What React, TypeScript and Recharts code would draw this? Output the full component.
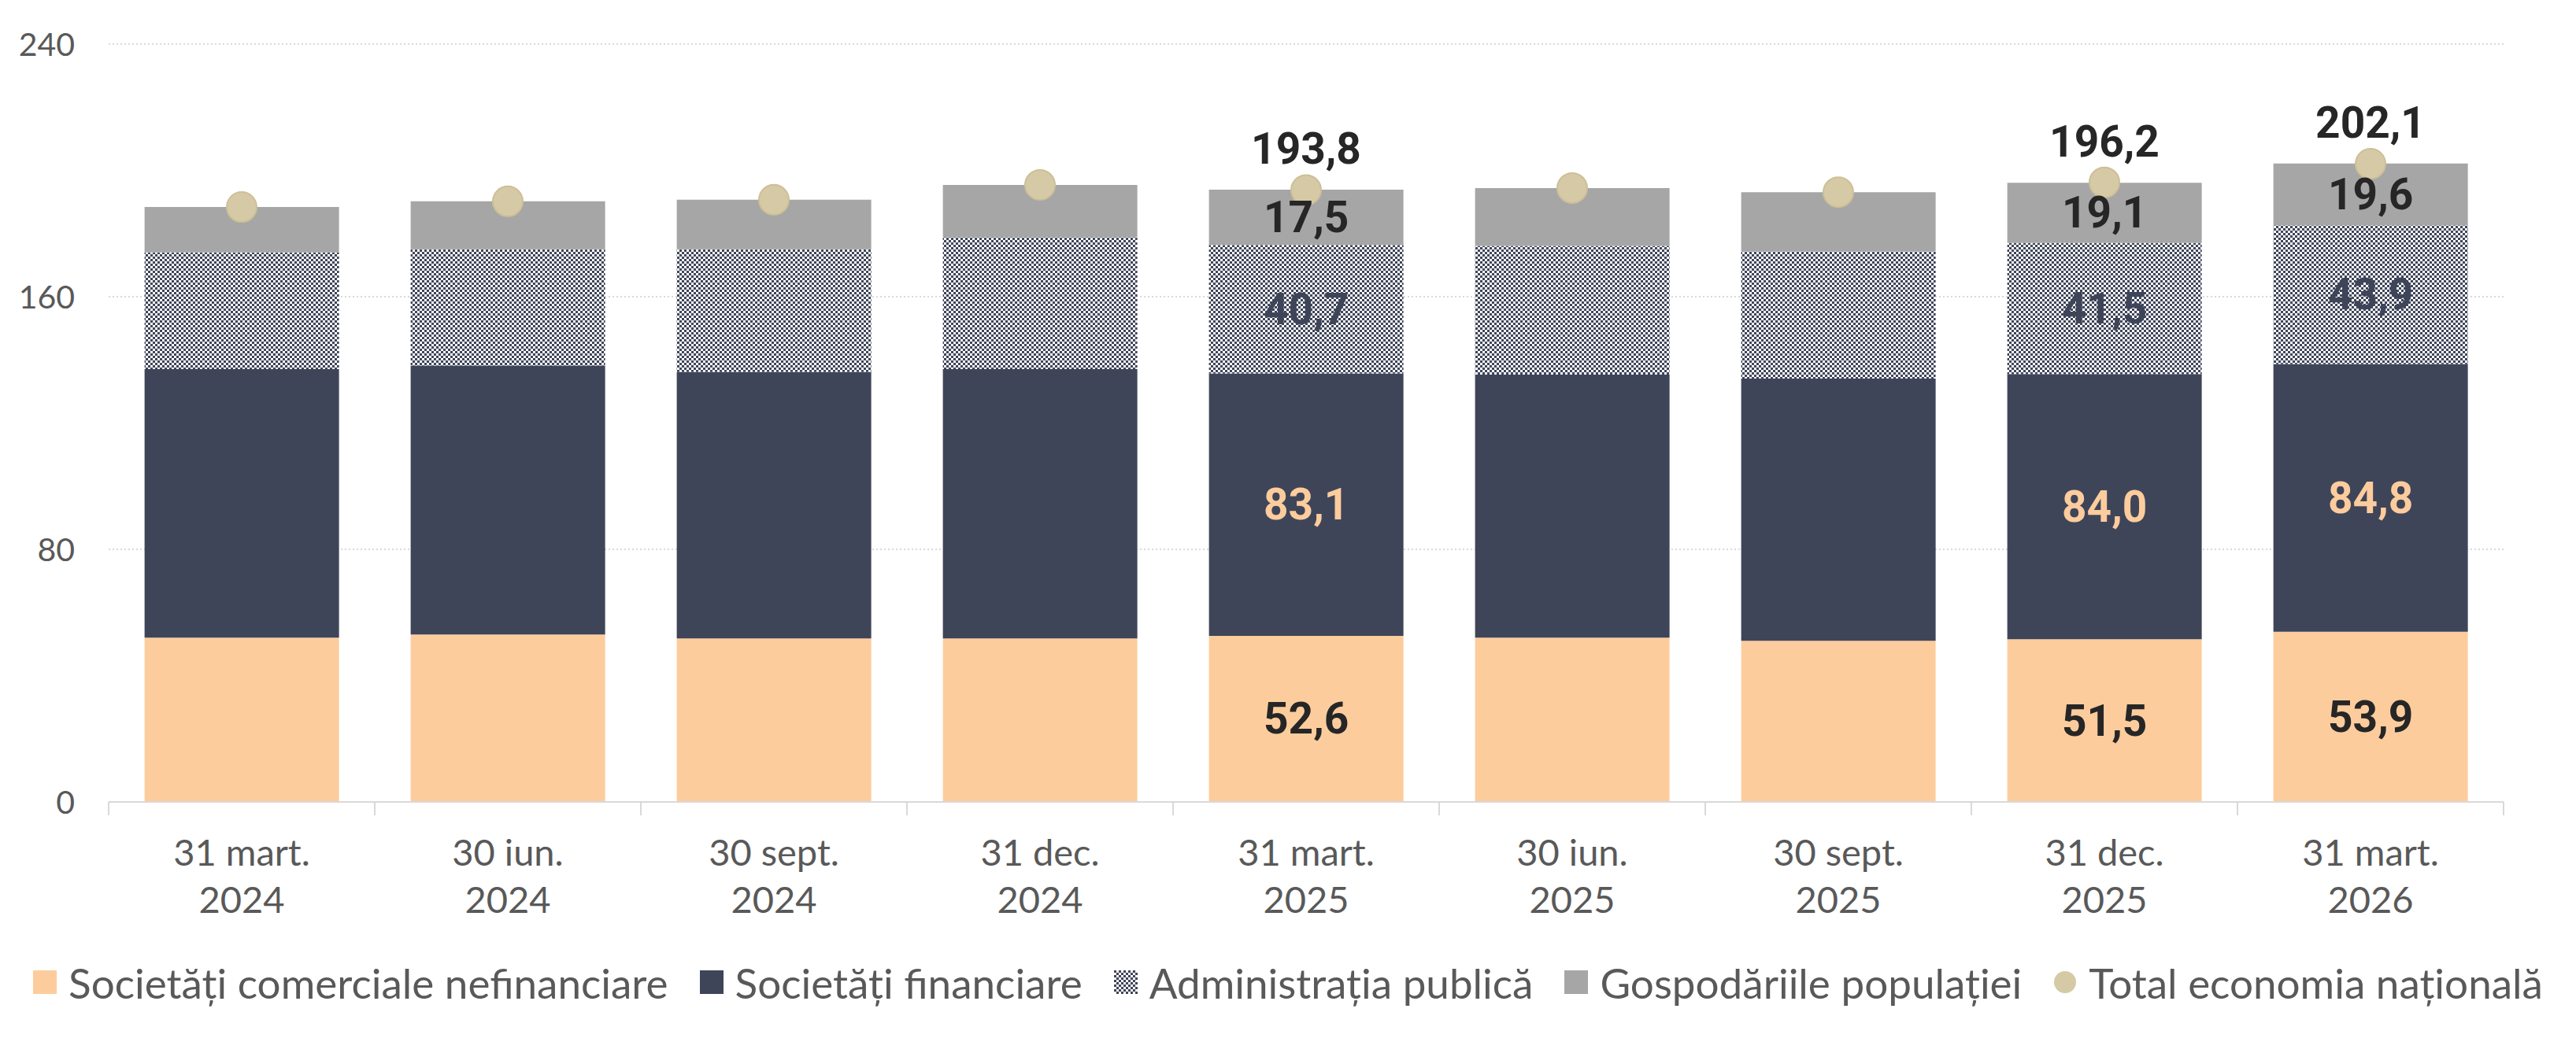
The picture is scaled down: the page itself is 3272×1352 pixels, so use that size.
import { ComposedChart, Bar, Line, XAxis, YAxis, CartesianGrid, LabelList } from 'recharts';

const tickDates = ['31 mart.', '30 iun.', '30 sept.', '31 dec.', '31 mart.', '30 iun.', '30 sept.', '31 dec.', '31 mart.'];
const tickYears = ['2024', '2024', '2024', '2024', '2025', '2025', '2025', '2025', '2026'];
const nefinanciare = [52.0, 53.0, 51.8, 51.8, 52.6, 52.0, 51.0, 51.5, 53.9];
const financiare = [85.1, 85.2, 84.4, 85.3, 83.1, 83.3, 83.1, 84.0, 84.8];
const administratie = [36.9, 36.8, 38.8, 41.8, 40.7, 40.8, 40.2, 41.5, 43.9];
const gospodarii = [14.4, 15.2, 15.7, 16.5, 17.5, 18.3, 18.8, 19.1, 19.6];
const totalEconomie = [188.4, 190.2, 190.7, 195.4, 193.8, 194.4, 193.1, 196.2, 202.1];
// only these quarters carry value labels
const labelled = [false, false, false, false, true, false, false, true, true];
const yTicks = [0, 80, 160, 240];

const seriesNames = [
  'Societăți comerciale nefinanciare',
  'Societăți financiare',
  'Administrația publică',
  'Gospodăriile populației',
  'Total economia națională',
];

const ORANGE = '#fdcc9d';
const NAVY = '#3f4559';
const GREY = '#a6a6a6';
const GOLD = '#d5caa5';
const TEXT = '#595959';
const AXIS_FONT = 'Lato, "Open Sans", sans-serif';
const LABEL_FONT = 'Roboto, "Noto Sans", sans-serif';

const CHART_W = 3256;
const CHART_H = 1200;
const MARGIN = { top: 48, right: 84, bottom: 0, left: 30 };
const Y_AXIS_W = 100;
const BAND = (CHART_W - MARGIN.left - MARGIN.right - Y_AXIS_W) / tickDates.length;

const data = tickDates.map((d, i) => ({
  name: `${d} ${tickYears[i]}`,
  nefinanciare: nefinanciare[i],
  financiare: financiare[i],
  administratie: administratie[i],
  gospodarii: gospodarii[i],
  total: totalEconomie[i],
}));

const fmt = (v: number) => v.toFixed(1).replace('.', ',');

function segmentLabel(color: string) {
  return (props: any) => {
    const { index, value } = props;
    if (!labelled[index]) return null;
    const vb = props.viewBox || props;
    const cx = vb.x + vb.width / 2;
    const cy = vb.y + vb.height / 2;
    return (
      <text x={cx} y={cy + 19} textAnchor="middle" fill={color} fontFamily={LABEL_FONT} fontWeight={700} fontSize={55}>
        {fmt(Number(value))}
      </text>
    );
  };
}

function totalLabel(props: any) {
  const { index, value } = props;
  if (!labelled[index]) return null;
  const vb = props.viewBox || props;
  const x = vb.x + (vb.width || 0) / 2;
  return (
    <text x={x} y={vb.y - 33} textAnchor="middle" fill="#262626" fontFamily={LABEL_FONT} fontWeight={700} fontSize={55}>
      {fmt(Number(value))}
    </text>
  );
}

function CategoryTick(props: any) {
  const { x, y, index } = props;
  const last = index === tickDates.length - 1;
  return (
    <g>
      <line x1={x - BAND / 2} x2={x - BAND / 2} y1={y} y2={y + 17} stroke="#d9d9d9" strokeWidth={2} />
      {last && <line x1={x + BAND / 2} x2={x + BAND / 2} y1={y} y2={y + 17} stroke="#d9d9d9" strokeWidth={2} />}
      <text x={x} textAnchor="middle" fill={TEXT} fontFamily={AXIS_FONT} fontSize={47}>
        <tspan x={x} y={y + 81}>{tickDates[index]}</tspan>
        <tspan x={x} y={y + 141}>{tickYears[index]}</tspan>
      </text>
    </g>
  );
}

function PatternDef({ id }: { id: string }) {
  return (
    <pattern id={id} width={6} height={6} patternUnits="userSpaceOnUse">
      <rect width={6} height={6} fill="#ffffff" />
      <rect width={3} height={3} fill={NAVY} />
      <rect x={3} y={3} width={3} height={3} fill={NAVY} />
    </pattern>
  );
}

function LegendRow() {
  const swatches = [
    <rect width={30} height={30} fill={ORANGE} />,
    <rect width={30} height={30} fill={NAVY} />,
    <rect width={30} height={30} fill="url(#admLegend)" />,
    <rect width={30} height={30} fill={GREY} />,
    <circle cx={15} cy={15} r={14} fill={GOLD} />,
  ];
  return (
    <div
      style={{
        width: CHART_W,
        height: 80,
        display: 'flex',
        justifyContent: 'center',
        alignItems: 'center',
        gap: 40,
        fontFamily: AXIS_FONT,
        fontSize: 53,
        color: TEXT,
      }}
    >
      <svg width={0} height={0} style={{ position: 'absolute' }}>
        <defs>
          <PatternDef id="admLegend" />
        </defs>
      </svg>
      {seriesNames.map((n, i) => (
        <div key={n} style={{ display: 'flex', alignItems: 'center', gap: 15 }}>
          <svg width={30} height={30}>{swatches[i]}</svg>
          <span>{n}</span>
        </div>
      ))}
    </div>
  );
}

export default function App() {
  return (
    <div style={{ width: CHART_W }}>
      <ComposedChart width={CHART_W} height={CHART_H} data={data} margin={MARGIN} barCategoryGap="13.5%">
        <defs>
          <PatternDef id="admPattern" />
        </defs>
        <CartesianGrid vertical={false} stroke="#d9d9d9" strokeWidth={2} strokeDasharray="2 3" />
        <XAxis
          dataKey="name"
          height={189}
          tickLine={false}
          tickSize={0}
          tickMargin={0}
          axisLine={{ stroke: '#d9d9d9', strokeWidth: 2 }}
          tick={<CategoryTick />}
          interval={0}
        />
        <YAxis
          width={Y_AXIS_W}
          domain={[0, 240]}
          ticks={yTicks}
          axisLine={false}
          tickLine={false}
          tickSize={0}
          tickMargin={43}
          tick={{ fill: TEXT, fontFamily: AXIS_FONT, fontSize: 41 }}
        />
        <Bar dataKey="nefinanciare" stackId="s" fill={ORANGE} isAnimationActive={false}>
          <LabelList dataKey="nefinanciare" content={segmentLabel('#262626')} />
        </Bar>
        <Bar dataKey="financiare" stackId="s" fill={NAVY} isAnimationActive={false}>
          <LabelList dataKey="financiare" content={segmentLabel(ORANGE)} />
        </Bar>
        <Bar dataKey="administratie" stackId="s" fill="url(#admPattern)" isAnimationActive={false}>
          <LabelList dataKey="administratie" content={segmentLabel(NAVY)} />
        </Bar>
        <Bar dataKey="gospodarii" stackId="s" fill={GREY} isAnimationActive={false}>
          <LabelList dataKey="gospodarii" content={segmentLabel('#262626')} />
        </Bar>
        <Line
          dataKey="total"
          stroke="none"
          strokeWidth={0}
          dot={{ r: 19, fill: GOLD, stroke: '#cdbf97', strokeWidth: 2, fillOpacity: 1 }}
          activeDot={false}
          isAnimationActive={false}
        >
          <LabelList dataKey="total" content={totalLabel} />
        </Line>
      </ComposedChart>
      <LegendRow />
    </div>
  );
}
